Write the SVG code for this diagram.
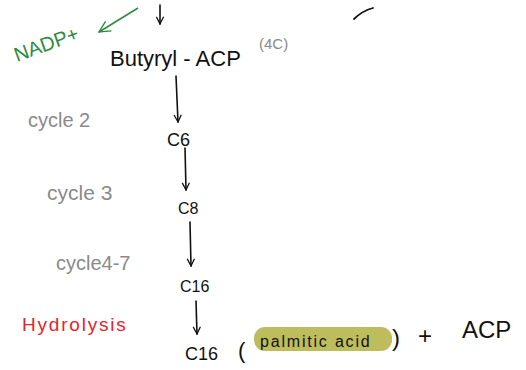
<svg xmlns="http://www.w3.org/2000/svg" width="526" height="370" viewBox="0 0 526 370">
<style>
.ink{font-family:"Liberation Sans",Arial,sans-serif;fill:#111}
.gray{font-family:"Liberation Sans",Arial,sans-serif;fill:#8a8a8a}
.con{stroke:#111;stroke-width:1.6;fill:none;stroke-linecap:round}
</style>
<defs>
<marker id="ah" viewBox="0 0 10 10" refX="9" refY="5" markerWidth="9" markerHeight="9" orient="auto" markerUnits="userSpaceOnUse">
<path d="M1 1 L9 5 L1 9" fill="none" stroke="#111" stroke-width="1.4"/>
</marker>
<marker id="ahg" viewBox="0 0 10 10" refX="9" refY="5" markerWidth="14" markerHeight="14" orient="auto" markerUnits="userSpaceOnUse">
<path d="M1 1 L9 5 L1 9" fill="none" stroke="#2e8b3e" stroke-width="1"/>
</marker>
</defs>
<rect width="526" height="370" fill="#fff"/>
<g id="connectors">
<path class="con" d="M160 5 L160 24" marker-end="url(#ah)"/>
<path class="con" d="M176 76 L178 122" marker-end="url(#ah)"/>
<path class="con" d="M185 148 L186 190" marker-end="url(#ah)"/>
<path class="con" d="M190 222 L191 266" marker-end="url(#ah)"/>
<path class="con" d="M196 301 L197 334" marker-end="url(#ah)"/>
<path d="M138 8 L99 32" stroke="#2e8b3e" stroke-width="1.5" fill="none" marker-end="url(#ahg)"/>
<path d="M354 19 Q362 11 373 8" stroke="#111" stroke-width="1.8" fill="none" stroke-linecap="round"/>
</g>
<g id="nadp">
<text x="17" y="62" transform="rotate(-20 17 62)" font-family="Liberation Sans,Arial,sans-serif" font-size="20" fill="#2e8b3e">NADP+</text>
</g>
<g id="butyryl">
<text class="ink" x="110" y="66" font-size="22">Butyryl - ACP</text>
<text class="gray" x="259" y="49" font-size="15">(4C)</text>
</g>
<g id="c6"><text class="ink" x="167" y="146" font-size="18">C6</text></g>
<g id="c8"><text class="ink" x="178" y="214" font-size="16">C8</text></g>
<g id="c16"><text class="ink" x="180" y="292" font-size="16">C16</text></g>
<g id="palmitic">
<rect x="254" y="327" width="138" height="24" rx="11" fill="#bdbd5e"/>
<text class="ink" x="185" y="360" font-size="18">C16</text>
<text class="ink" x="238" y="358" font-size="22">(</text>
<text class="ink" x="260" y="347" font-size="16" letter-spacing="1.8">palmitic acid</text>
<text class="ink" x="392" y="346" font-size="24">)</text>
<text class="ink" x="418" y="344" font-size="24">+</text>
<text class="ink" x="462" y="338" font-size="24">ACP</text>
</g>
<g id="labels">
<text class="gray" x="28" y="127" font-size="20">cycle 2</text>
<text class="gray" x="47" y="200" font-size="21">cycle 3</text>
<text class="gray" x="56" y="270" font-size="20">cycle4-7</text>
<text x="22" y="331" font-family="Liberation Sans,Arial,sans-serif" font-size="19" letter-spacing="1.8" fill="#e8232a">Hydrolysis</text>
</g>
</svg>
